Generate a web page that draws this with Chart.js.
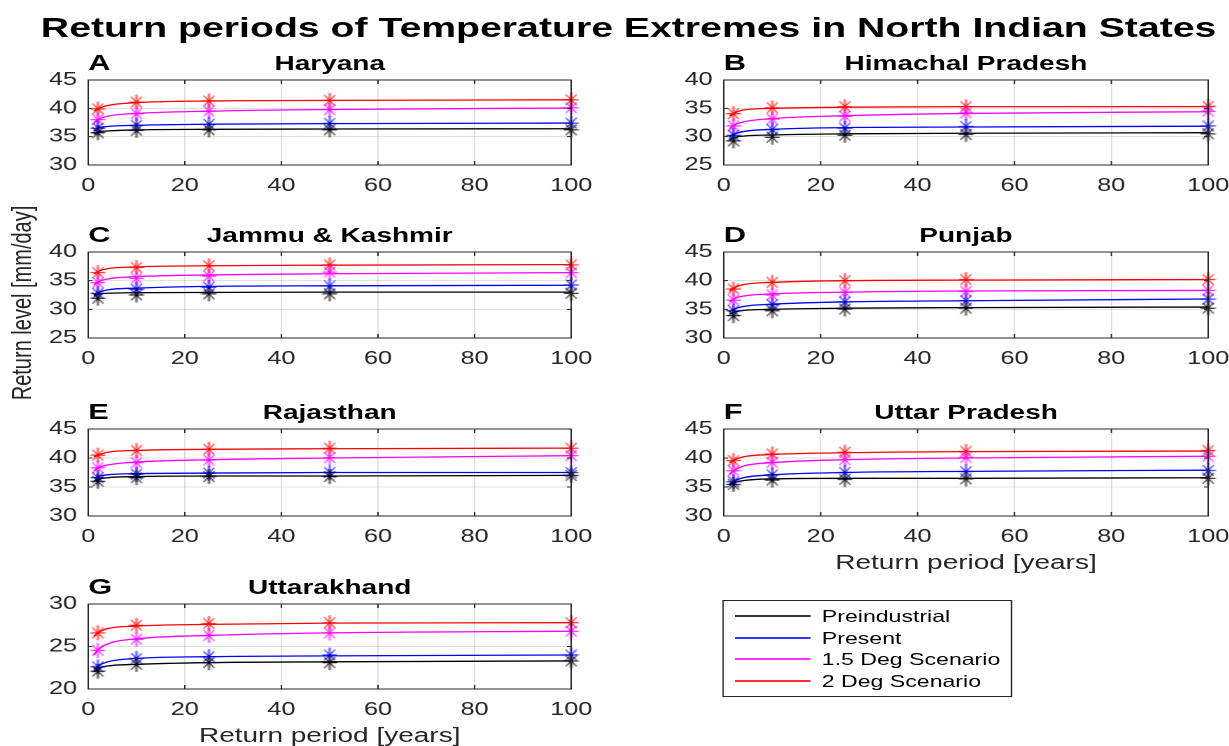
<!DOCTYPE html>
<html>
<head>
<meta charset="utf-8">
<script src="https://cdn.jsdelivr.net/npm/chart.js@4.4.1/dist/chart.umd.min.js"></script>
<style>
  html, body { margin: 0; padding: 0; background: #fff; overflow: hidden; }
  #page { position: absolute; left: 0; top: 0; width: 878px; height: 746px;
          transform: scaleX(1.4); transform-origin: 0 0;
          font-family: "Liberation Sans", Arial, Helvetica, sans-serif; color: #000; }
  .abs { position: absolute; white-space: nowrap; }
  .ptitle { font-weight: bold; font-size: 20px; text-align: center; height: 24px; line-height: 24px; }
  .letter { font-weight: bold; font-size: 22px; height: 24px; line-height: 24px; }
  .xlab { font-size: 20px; text-align: center; color: #262626; height: 24px; line-height: 24px; }
  canvas { position: absolute; }
  #legend { position: absolute; border: 1px solid #262626; background: #fff; }
  .lrow { position: absolute; left: 0; height: 20px; line-height: 20px; font-size: 16.5px; color: #000; }
  .lline { position: absolute; left: 8px; top: 9px; width: 54px; height: 2px; opacity: 0.8; }
  .ltext { position: absolute; left: 70px; top: 0; }
</style>
</head>
<body>
<div id="page">
  <div class="abs" style="left:10px;width:878px;top:12px;text-align:center;font-weight:bold;font-size:28px;line-height:32px;">Return periods of Temperature Extremes in North Indian States</div>
  <div class="abs" style="left:16px;top:303px;font-size:20px;color:#262626;transform:translate(-50%,-50%) rotate(-90deg);">Return level [mm/day]</div>
  <div id="legend"></div>
</div>
<script>
// ---- data ----
var seriesNames = ['Preindustrial', 'Present', '1.5 Deg Scenario', '2 Deg Scenario'];
var seriesColors = ['#000000', '#0000ff', '#ff00ff', '#ff0000'];
var stateNames = ['Haryana', 'Himachal Pradesh', 'Jammu & Kashmir', 'Punjab', 'Rajasthan', 'Uttar Pradesh', 'Uttarakhand'];
var panelLetters = ['A', 'B', 'C', 'D', 'E', 'F', 'G'];
var yMins = [30, 25, 25, 30, 30, 30, 20];
var yMaxs = [45, 40, 40, 45, 45, 45, 30];
var xTicks = [0, 20, 40, 60, 80, 100];

// return periods of the fitted curve and of the markers
var curveYears = [1.2, 2, 4, 10, 25, 50, 100];
var markerYears = [2, 10, 25, 50, 100];

// fitted curves: [preindustrial, present, 1.5 deg, 2 deg]
var haryanaCurve = [
  [35.4, 35.8, 36.0, 36.2, 36.3, 36.35, 36.4],
  [36.0, 36.5, 36.8, 37.0, 37.2, 37.3, 37.4],
  [37.5, 38.0, 38.6, 39.1, 39.5, 39.8, 40.05],
  [39.5, 39.9, 40.5, 41.0, 41.3, 41.4, 41.5]];
var haryanaMarks = [
  [35.7, 36.1, 36.2, 36.2, 36.2],
  [36.5, 37.0, 37.2, 37.35, 37.4],
  [38.0, 39.05, 39.5, 39.75, 40.1],
  [39.9, 41.1, 41.3, 41.4, 41.5]];

var himachalCurve = [
  [29.4, 29.8, 30.1, 30.3, 30.5, 30.6, 30.7],
  [30.0, 30.4, 30.9, 31.3, 31.6, 31.7, 31.85],
  [31.4, 32.0, 32.6, 33.2, 33.7, 34.1, 34.4],
  [33.7, 34.1, 34.7, 35.0, 35.2, 35.3, 35.3]];
var himachalMarks = [
  [29.25, 29.9, 30.25, 30.4, 30.5],
  [30.25, 31.25, 31.5, 31.8, 31.9],
  [31.9, 33.1, 33.6, 34.2, 34.5],
  [34.05, 35.1, 35.3, 35.3, 35.35]];

var jkCurve = [
  [32.3, 32.6, 32.8, 32.9, 32.95, 33.0, 33.0],
  [32.5, 32.9, 33.4, 33.7, 34.0, 34.1, 34.2],
  [34.3, 34.8, 35.3, 35.7, 36.0, 36.2, 36.4],
  [36.2, 36.6, 37.1, 37.4, 37.6, 37.7, 37.8]];
var jkMarks = [
  [31.95, 32.5, 32.7, 32.7, 32.8],
  [32.8, 33.5, 33.85, 34.1, 34.25],
  [34.65, 35.4, 35.8, 36.5, 36.4],
  [36.4, 37.3, 37.6, 37.75, 37.75]];

var punjabCurve = [
  [34.2, 34.5, 34.8, 35.0, 35.2, 35.3, 35.4],
  [34.6, 35.0, 35.5, 35.9, 36.3, 36.5, 36.8],
  [36.3, 36.8, 37.3, 37.7, 38.0, 38.2, 38.3],
  [38.2, 38.7, 39.3, 39.7, 40.0, 40.1, 40.2]];
var punjabMarks = [
  [33.9, 34.75, 35.05, 35.2, 35.2],
  [34.75, 35.8, 36.3, 36.5, 36.8],
  [36.6, 37.5, 37.95, 38.1, 38.3],
  [38.55, 39.7, 40.0, 40.2, 40.2]];

var rajasthanCurve = [
  [36.0, 36.3, 36.6, 36.8, 36.9, 36.9, 37.0],
  [36.5, 36.8, 37.1, 37.3, 37.4, 37.5, 37.5],
  [37.8, 38.3, 38.8, 39.3, 39.7, 40.0, 40.4],
  [40.2, 40.5, 41.0, 41.3, 41.5, 41.6, 41.7]];
var rajasthanMarks = [
  [36.0, 36.6, 36.8, 36.8, 37.0],
  [36.6, 37.2, 37.4, 37.5, 37.5],
  [38.3, 39.2, 39.65, 40.05, 40.4],
  [40.5, 41.3, 41.5, 41.7, 41.7]];

var upCurve = [
  [35.3, 35.7, 36.1, 36.4, 36.5, 36.5, 36.6],
  [35.5, 36.0, 36.6, 37.1, 37.5, 37.7, 37.9],
  [37.2, 37.8, 38.6, 39.2, 39.7, 40.0, 40.3],
  [39.2, 39.6, 40.2, 40.6, 40.9, 41.1, 41.2]];
var upMarks = [
  [35.45, 36.2, 36.3, 36.4, 36.5],
  [35.9, 37.1, 37.5, 37.65, 37.85],
  [37.8, 39.25, 39.7, 40.1, 40.3],
  [39.55, 40.7, 41.0, 41.15, 41.3]];

var ukCurve = [
  [22.0, 22.4, 22.7, 22.9, 23.1, 23.2, 23.3],
  [22.3, 22.7, 23.2, 23.6, 23.8, 23.9, 24.0],
  [24.0, 24.6, 25.3, 25.9, 26.3, 26.6, 26.8],
  [26.2, 26.6, 27.1, 27.4, 27.6, 27.75, 27.8]];
var ukMarks = [
  [22.1, 22.9, 23.1, 23.1, 23.3],
  [22.6, 23.6, 23.8, 24.0, 24.0],
  [24.55, 25.85, 26.3, 26.6, 26.8],
  [26.6, 27.5, 27.7, 27.8, 27.8]];

var allCurves = [haryanaCurve, himachalCurve, jkCurve, punjabCurve, rajasthanCurve, upCurve, ukCurve];
var allMarks = [haryanaMarks, himachalMarks, jkMarks, punjabMarks, rajasthanMarks, upMarks, ukMarks];

// ---- layout (page units before the 1.4 horizontal stretch) ----
var colLeft = [63, 517];
var colWidth = [345, 346];
var rowTop = [80, 252, 429, 604];
var rowHeight = [85, 86, 87, 85];
var Y_AXIS_W = 40, PAD_TOP = 22, PAD_RIGHT = 24, X_AXIS_H = 36;
var STRETCH = 1.4;

var page = document.getElementById('page');

// asterisk marker, pre-squeezed so it looks round after the stretch
function makeStar(color) {
  var c = document.createElement('canvas');
  c.width = 12; c.height = 17;
  var g = c.getContext('2d');
  g.strokeStyle = color;
  g.lineWidth = 1;
  var cx = 6, cy = 8.5, r = 7.5;
  var rx = r / STRETCH, d = r * 0.707;
  g.beginPath();
  g.moveTo(cx, cy - r); g.lineTo(cx, cy + r);
  g.moveTo(cx - rx, cy); g.lineTo(cx + rx, cy);
  g.moveTo(cx - d / STRETCH, cy - d); g.lineTo(cx + d / STRETCH, cy + d);
  g.moveTo(cx + d / STRETCH, cy - d); g.lineTo(cx - d / STRETCH, cy + d);
  g.stroke();
  return c;
}
var stars = seriesColors.map(makeStar);

// MATLAB-like box with inward tick marks
var boxPlugin = {
  id: 'box',
  afterDraw: function(chart) {
    var a = chart.chartArea, ctx = chart.ctx;
    var xs = chart.scales.x, ys = chart.scales.y;
    ctx.save();
    ctx.strokeStyle = '#262626';
    ctx.lineWidth = 1;
    ctx.beginPath();
    xs.ticks.forEach(function(t) {
      var px = xs.getPixelForValue(t.value);
      ctx.moveTo(px, a.bottom); ctx.lineTo(px, a.bottom - 4);
      ctx.moveTo(px, a.top); ctx.lineTo(px, a.top + 4);
    });
    ys.ticks.forEach(function(t) {
      var py = ys.getPixelForValue(t.value);
      ctx.moveTo(a.left, py); ctx.lineTo(a.left + 3, py);
      ctx.moveTo(a.right, py); ctx.lineTo(a.right - 3, py);
    });
    ctx.stroke();
    ctx.strokeRect(a.left, a.top, a.right - a.left, a.bottom - a.top);
    ctx.restore();
  }
};

function addDiv(cls, text, left, top, width) {
  var d = document.createElement('div');
  d.className = 'abs ' + cls;
  d.textContent = text;
  d.style.left = left + 'px';
  d.style.top = top + 'px';
  if (width) d.style.width = width + 'px';
  page.appendChild(d);
}

function drawPanel(i) {
  var col = i % 2, row = Math.floor(i / 2);
  var pl = colLeft[col], pw = colWidth[col], pt = rowTop[row], ph = rowHeight[row];

  addDiv('letter', panelLetters[i], pl, pt - 29);
  addDiv('ptitle', stateNames[i], pl, pt - 29, pw);

  var cv = document.createElement('canvas');
  var cw = Y_AXIS_W + pw + PAD_RIGHT;
  var ch = PAD_TOP + ph + X_AXIS_H;
  cv.width = cw;
  cv.height = ch;
  page.appendChild(cv);

  var datasets = [];
  for (var s = 0; s < seriesNames.length; s++) {
    datasets.push({
      label: seriesNames[s],
      data: curveYears.map(function(x, k) { return { x: x, y: allCurves[i][s][k] }; }),
      showLine: true,
      borderColor: seriesColors[s],
      borderWidth: 1.3,
      pointRadius: 0,
      cubicInterpolationMode: 'monotone',
      order: 2
    });
    datasets.push({
      label: seriesNames[s] + ' markers',
      data: markerYears.map(function(x, k) { return { x: x, y: allMarks[i][s][k] }; }),
      showLine: false,
      pointStyle: stars[s],
      borderColor: seriesColors[s],
      pointRadius: 8,
      clip: false,
      order: 1
    });
  }

  var tickFont = { family: '"Liberation Sans", Arial, sans-serif', size: 18 };
  var chart = new Chart(cv, {
    type: 'scatter',
    data: { datasets: datasets },
    plugins: [boxPlugin],
    options: {
      responsive: false,
      maintainAspectRatio: false,
      animation: false,
      devicePixelRatio: 2,
      layout: { padding: { left: 0, top: PAD_TOP, right: PAD_RIGHT, bottom: 0 } },
      plugins: { legend: { display: false }, tooltip: { enabled: false } },
      scales: {
        x: {
          type: 'linear', min: 0, max: 100,
          afterBuildTicks: function(sc) { sc.ticks = xTicks.map(function(v) { return { value: v }; }); },
          afterFit: function(sc) { sc.height = X_AXIS_H; },
          ticks: { font: tickFont, color: '#262626', padding: 10, maxRotation: 0 },
          grid: { color: 'rgba(0,0,0,0.12)', drawTicks: false },
          border: { display: false }
        },
        y: {
          min: yMins[i], max: yMaxs[i],
          afterFit: function(sc) { sc.width = Y_AXIS_W; },
          ticks: { stepSize: 5, font: tickFont, color: '#262626', padding: 8 },
          grid: { color: 'rgba(0,0,0,0.12)', drawTicks: false },
          border: { display: false }
        }
      }
    }
  });

  // make the plot area land exactly where the figure has it
  var a = chart.chartArea;
  var dh = ph - (a.bottom - a.top), dw = pw - (a.right - a.left);
  if (Math.abs(dh) > 0.5 || Math.abs(dw) > 0.5) {
    chart.resize(Math.round(cw + dw), Math.round(ch + dh));
    a = chart.chartArea;
  }
  cv.style.left = (pl - a.left) + 'px';
  cv.style.top = (pt - a.top) + 'px';
}

for (var i = 0; i < stateNames.length; i++) drawPanel(i);

// x-axis titles under F and G
addDiv('xlab', 'Return period [years]', colLeft[1], 550, colWidth[1]);
addDiv('xlab', 'Return period [years]', colLeft[0], 723, colWidth[0]);

// legend box
var lg = document.getElementById('legend');
lg.style.left = '516px';
lg.style.top = '600px';
lg.style.width = '205px';
lg.style.height = '95px';
var rowTops = [5, 27, 48, 70];
seriesNames.forEach(function(name, s) {
  var r = document.createElement('div');
  r.className = 'lrow';
  r.style.top = rowTops[s] + 'px';
  r.style.width = '205px';
  var ln = document.createElement('div');
  ln.className = 'lline';
  ln.style.backgroundColor = seriesColors[s];
  var tx = document.createElement('div');
  tx.className = 'ltext';
  tx.textContent = name;
  r.appendChild(ln); r.appendChild(tx);
  lg.appendChild(r);
});
</script>
</body>
</html>
